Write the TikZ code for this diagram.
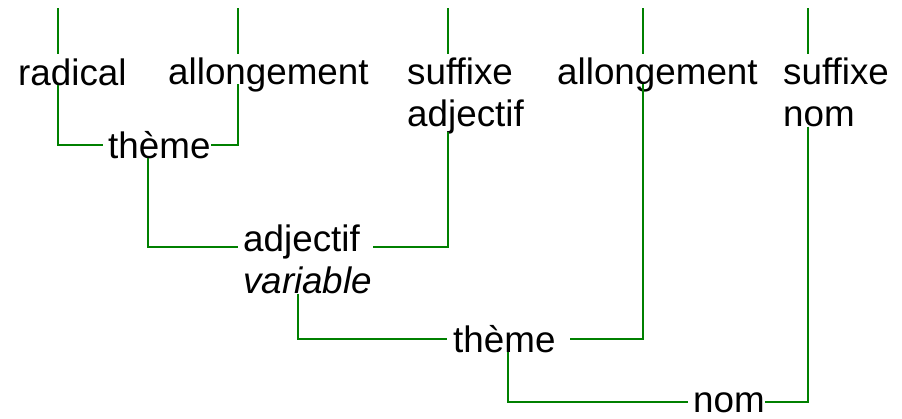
\documentclass[tikz,border=0pt]{standalone}
\usepackage{fontspec}
\setmainfont{Liberation Sans}
\usepackage{tikz}
\usetikzlibrary{calc}
\newcommand{\linecolor}{green!50!black}
\newcommand{\thickness}{1.8pt}

\begin{document}
\begin{tikzpicture}[x=1pt,y=1pt,
  word/.style={inner sep=0pt,anchor=base west,align=left,font=\fontsize{36.8}{42}\selectfont}]
\useasboundingbox (0,0) rectangle (902,-418);
%top row (two-line words sit on their last line)
\node[word] (radical) at (18,-85) {radical};
\node[word] (allong1) at (168,-84) {allongement};
\node[word] (sufadj) at (407,-126) {suffixe\\adjectif};
\node[word] (allong2) at (557,-84) {allongement};
\node[word] (sufnom) at (783,-126) {suffixe\\nom};
%lower rows
\node[word] (theme1) at (108,-158) {thème};
\node[word] (adj) at (243,-293) {adjectif\\\textit{variable}};
\node[word] (theme2) at (453,-352) {thème};
\node[word] (nom) at (693,-412) {nom};
%stubs
\coordinate (t1) at (58,-8);
\coordinate (t2) at (238,-8);
\coordinate (t3) at (448,-8);
\coordinate (t4) at (643,-8);
\coordinate (t5) at (808,-8);
\draw[\linecolor] [line width = \thickness] (t1) -- ($(t1 |- radical.north)+(0,4)$);
\draw[\linecolor] [line width = \thickness] (t2) -- ($(t2 |- radical.north)+(0,4)$);
\draw[\linecolor] [line width = \thickness] (t3) -- ($(t3 |- radical.north)+(0,4)$);
\draw[\linecolor] [line width = \thickness] (t4) -- ($(t4 |- radical.north)+(0,4)$);
\draw[\linecolor] [line width = \thickness] (t5) -- ($(t5 |- radical.north)+(0,4)$);
%theme1
\draw[\linecolor] [line width = \thickness] (t1 |- radical.base) |- ([xshift=-5pt]theme1.west);
\draw[\linecolor] [line width = \thickness] (t2 |- allong1.base) |- (theme1.east);
%adj
\draw[\linecolor] [line width = \thickness] ($(theme1.base west)+(40,0)$) |- ($(adj.base west)+(-5,46)$);
\draw[\linecolor] [line width = \thickness] ($(t3 |- sufadj.south)+(0,2)$) |- ($(adj.base east)+(1,46)$);
%theme2
\draw[\linecolor] [line width = \thickness] ($(adj.south west)+(55,0)$) |- ([xshift=-6pt]theme2.west);
\draw[\linecolor] [line width = \thickness] (t4 |- allong2.base) |- ([xshift=14pt]theme2.east);
%nom
\draw[\linecolor] [line width = \thickness] ($(theme2.base west)+(55,0)$) |- ([xshift=-5pt]nom.west);
\draw[\linecolor] [line width = \thickness] (t5 |- sufnom.south) |- (nom.east);
\end{tikzpicture}
\end{document}
